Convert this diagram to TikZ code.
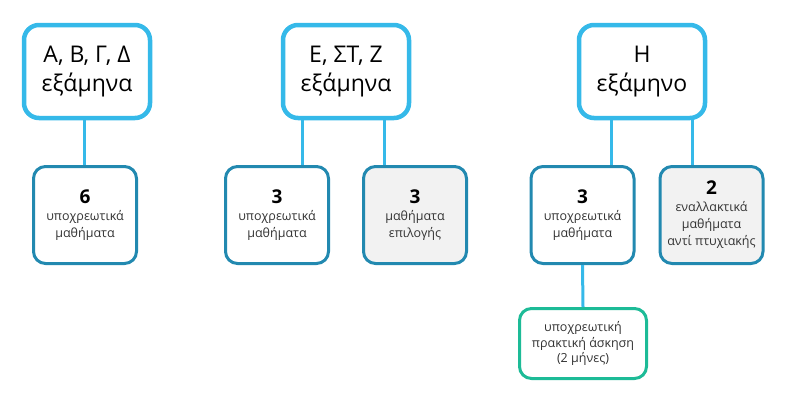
\documentclass[tikz,border=0pt]{standalone}
\usepackage{fontspec}
\setmainfont{Open Sans}
\usepackage{tikz}
\usetikzlibrary{positioning}
\definecolor{skyline}{HTML}{35B9E9}
\definecolor{tealline}{HTML}{2289B0}
\definecolor{greenline}{HTML}{1DBB97}
\definecolor{boxgrey}{HTML}{F2F2F2}
\definecolor{textgrey}{HTML}{333333}
\newcommand{\bignum}[1]{{\fontsize{19}{23}\selectfont\bfseries\color{black}#1}}

\begin{document}
\begin{tikzpicture}
   [x=1pt,y=-1pt,
    term/.style={draw=skyline,line width=4.5pt,rounded corners=15pt,fill=white,
       minimum width=126pt,minimum height=93pt,align=center,font=\fontsize{23}{29}\selectfont},
    course/.style={draw=tealline,line width=3pt,rounded corners=12pt,fill=white,
       minimum width=103pt,minimum height=97pt,align=center,text=textgrey,
       font=\fontsize{12.5}{17}\selectfont},
    elective/.style={course,fill=boxgrey},
    practice/.style={course,draw=greenline,minimum width=127pt,minimum height=70pt,
       font=\fontsize{12.5}{15.5}\selectfont},
    link/.style={draw=skyline,line width=3pt}]
   \useasboundingbox (0,0) rectangle (800,407);

   \node[term] (termA) at (87,71.5) {Α, Β, Γ, Δ\\εξάμηνα};
   \node[term] (termE) at (346,71.5) {Ε, ΣΤ, Ζ\\εξάμηνα};
   \node[term] (termH) at (642,71.5) {Η\\εξάμηνο};

   \node[course] (coreA) at (85,215) {\bignum{6}\\υποχρεωτικά\\μαθήματα};
   \node[course] (coreE) at (277,215) {\bignum{3}\\υποχρεωτικά\\μαθήματα};
   \node[elective] (choiceE) at (415,215) {\bignum{3}\\μαθήματα\\επιλογής};
   \node[course] (coreH) at (582.5,215) {\bignum{3}\\υποχρεωτικά\\μαθήματα};
   \node[elective] (altH) at (711.5,215) {\bignum{2}\\εναλλακτικά\\μαθήματα\\αντί πτυχιακής};

   \node[practice] (intern) at (583,343.5) {υποχρεωτική\\πρακτική άσκηση\\(2 μήνες)};

   % connectors
   \draw[link] ([xshift=-3pt]termA.south) -- ([xshift=-3pt]termA.south |- coreA.north);
   \draw[link] ([xshift=-44pt]termE.south) -- ([xshift=-44pt]termE.south |- coreE.north);
   \draw[link] ([xshift=38pt]termE.south) -- ([xshift=38pt]termE.south |- choiceE.north);
   \draw[link] ([xshift=-31pt]termH.south) -- ([xshift=-31pt]termH.south |- coreH.north);
   \draw[link] ([xshift=50pt]termH.south) -- ([xshift=50pt]termH.south |- altH.north);
   \draw[link] (coreH.south) -- (intern.north);
\end{tikzpicture}
\end{document}
